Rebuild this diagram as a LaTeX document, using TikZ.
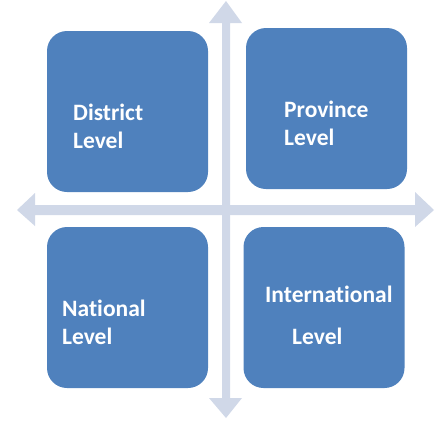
\documentclass[tikz,border=0pt]{standalone}
\usepackage{fontspec}
\setmainfont{Carlito}[Ligatures=NoCommon]
\newcommand{\tikzti}{t\kern0pt i}
\definecolor{boxblue}{HTML}{4F81BD}
\definecolor{arrowlav}{HTML}{D0D8E8}
\begin{document}
\begin{tikzpicture}[x=1pt,y=-1pt,
  levelbox/.style={fill=boxblue,draw=none,rounded corners=20pt,inner sep=0pt,outer sep=0pt,minimum width=161pt,minimum height=161pt},
  leveltext/.style={anchor=base west,inner sep=0pt,text=white,font=\fontsize{23.5}{28}\selectfont\bfseries},
  bigarrow/.style={fill=arrowlav,draw=none}]
\useasboundingbox (0,0) rectangle (435,421);
% axes (block arrows)
\fill[bigarrow] (226,1) -- (242,23) -- (230,23) -- (230,398) -- (242,398) -- (226,418) -- (209,398) -- (222,398) -- (222,23) -- (209,23) -- cycle;
\fill[bigarrow] (17,210) -- (35,193) -- (35,205) -- (415,205) -- (415,192) -- (434,210) -- (415,227) -- (415,215) -- (35,215) -- (35,226) -- cycle;
% boxes
\node[levelbox] (district) at (127.5,111.5) {};
\node[levelbox] (province) at (326.5,108.5) {};
\node[levelbox] (national) at (127.5,307.5) {};
\node[levelbox] (international) at (324,307.5) {};
% texts
\node[leveltext] (t1a) at (73,120) {District};
\node[leveltext] (t1b) at (73,148) {Level};
\node[leveltext] (t2a) at (284,117) {Province};
\node[leveltext] (t2b) at (284,145) {Level};
\node[leveltext] (t3a) at (62,316) {Na\tikzti onal};
\node[leveltext] (t3b) at (62,344) {Level};
\node[leveltext] (t4a) at (265,302) {Interna\tikzti onal};
\node[leveltext] (t4b) at (292,344) {Level};
\end{tikzpicture}
\end{document}
